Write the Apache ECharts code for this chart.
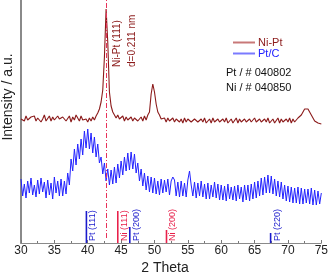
<!DOCTYPE html>
<html><head><meta charset="utf-8">
<script src="https://cdn.jsdelivr.net/npm/echarts@6/dist/echarts.min.js"></script>
<style>html,body{margin:0;padding:0;background:#fff}#c{width:331px;height:275px}</style>
</head><body><div id="c"></div>
<script>
// sampling grid: 2θ from 30 to 75 in 0.25° steps
const thetaStart = 30, thetaStep = 0.25;
const niPt = [
124,126,122,127,123,121,126,124,
127,122,125,126,121,124,128,122,
124,127,122,126,123,121,127,124,
122,126,128,122,124,127,121,126,
123,128,130,122,127,123,121,124,
121,125,122,126,123,127,130,134,
141,153,186,234,201,151,137,131,
129,125,128,124,125,127,122,126,
123,121,126,122,125,127,122,124,
126,122,127,123,128,131,149,159,
151,139,131,128,124,122,125,121,
125,122,120,125,121,124,126,121,
124,120,125,121,124,126,121,120,
124,125,121,120,124,121,125,120,
121,124,120,125,121,120,124,121,
120,124,121,125,120,121,124,120,
121,125,120,124,121,120,124,121,
120,124,121,120,125,121,120,124,
121,120,124,121,125,120,121,124,
120,121,125,120,124,121,120,124,
121,125,120,124,121,123,125,126,
128,131,134,136,134,131,128,125,
122,123,120,122,119
];
const ptC = [
64,47,59,45,62,50,65,48,
58,46,63,49,65,51,61,45,
63,48,60,44,66,50,62,47,
64,47,62,49,70,58,84,72,
94,78,99,84,104,88,112,95,
114,94,110,90,106,86,99,80,
86,69,80,62,74,58,73,59,
76,60,79,65,82,68,86,72,
90,73,91,74,89,70,80,62,
74,57,70,53,67,51,66,50,
65,49,62,48,64,50,63,51,
64,48,62,66,63,47,61,46,
62,47,60,46,63,72,58,47,
61,45,60,47,62,46,59,44,
60,44,58,46,61,45,59,43,
58,43,57,42,59,44,56,43,
57,42,58,44,56,41,58,43,
58,42,59,44,61,45,62,47,
65,48,66,50,68,50,67,49,
64,47,62,46,61,44,58,42,
57,41,56,40,55,40,56,39,
55,39,54,40,54,39,55,38,
53,38,52,39,50
];
// reference (JCPDS) sticks
const stickPos = [39.8, 44.5, 46.3, 51.8, 67.4];
const stickHeight = [32, 32, 16, 13, 10];
const stickLabel = ['Pt (111)', 'Ni (111)', 'Pt (200)', 'Ni (200)', 'Pt (220)'];
const stickElem = ['Pt', 'Ni', 'Pt', 'Ni', 'Pt'];
const xTicks = [30, 35, 40, 45, 50, 55, 60, 65, 70, 75];
const peakLine = 42.75;

const FONT = 'Liberation Sans, Arial, sans-serif';
const RED = '#8b1a1a', BLUE = '#2222ff';
const toPairs = arr => arr.map((v, i) => [thetaStart + i * thetaStep, v]);

const chart = echarts.init(document.getElementById('c'), null, {renderer: 'canvas'});
chart.setOption({
  animation: false,
  grid: {left: 21, right: 8, top: 0, bottom: 32},
  xAxis: {
    type: 'value', min: 30, max: 75, interval: 5,
    axisLine: {show: true, lineStyle: {color: '#8a8a8a', width: 1}},
    axisTick: {show: true, inside: true, length: 3, lineStyle: {color: '#777'}},
    minorTick: {show: true, splitNumber: 2, length: 2, lineStyle: {color: '#777'}},
    splitLine: {show: false},
    axisLabel: {color: '#222', fontSize: 12, fontFamily: FONT, margin: 2,
      formatter: v => xTicks.includes(v) ? String(v) : ''}
  },
  yAxis: {
    type: 'value', min: 0, max: 243,
    axisLine: {show: true, lineStyle: {color: '#8a8a8a', width: 2}},
    axisTick: {show: false}, axisLabel: {show: false}, splitLine: {show: false}
  },
  legend: {
    orient: 'vertical', left: 228, top: 32, itemGap: 0,
    itemWidth: 22, itemHeight: 2, icon: 'rect',
    textStyle: {fontSize: 11, fontFamily: FONT, lineHeight: 11, padding: [0, 0, 0, -2]},
    data: [
      {name: 'Ni-Pt', textStyle: {color: RED}, itemStyle: {color: '#c87878'}},
      {name: 'Pt/C', textStyle: {color: BLUE}, itemStyle: {color: '#7a7aff'}}
    ]
  },
  series: [
    {name: 'Pt/C', type: 'line', data: toPairs(ptC), showSymbol: false, symbol: 'none',
     lineStyle: {color: BLUE, width: 1}, itemStyle: {color: BLUE}, z: 2},
    {name: 'Ni-Pt', type: 'line', data: toPairs(niPt), showSymbol: false, symbol: 'none',
     lineStyle: {color: RED, width: 1.1}, itemStyle: {color: RED}, z: 3,
     markLine: {silent: true, symbol: 'none', label: {show: false},
       lineStyle: {color: '#e8325a', width: 1, type: [5, 2, 1, 2]},
       data: [[{coord: [peakLine, 5]}, {coord: [peakLine, 243]}]]}},
    {name: 'sticks', type: 'custom', z: 4,
     data: stickPos.map((p, i) => [p, stickHeight[i]]),
     encode: {x: 0, y: 1},
     renderItem: function (params, api) {
       const x = api.value(0), h = api.value(1);
       const p0 = api.coord([x, 0]), p1 = api.coord([x, h]);
       const c = stickElem[params.dataIndex] === 'Pt' ? '#1a1acc' : '#e8204a';
       return {type: 'group', children: [
         {type: 'line', shape: {x1: p0[0], y1: p0[1], x2: p1[0], y2: p1[1]},
          style: {stroke: c, lineWidth: 1.6}},
         {type: 'text', x: p0[0] + 2, y: p0[1] - 2, rotation: Math.PI / 2,
          style: {text: stickLabel[params.dataIndex], fill: c, font: '9px ' + FONT,
                  align: 'left', verticalAlign: 'top'}}
       ]};
     }}
  ],
  graphic: [
    {type: 'text', x: 112, y: 67, rotation: Math.PI / 2,
     style: {text: 'Ni-Pt (111)', fill: RED, font: '10px ' + FONT, align: 'left', verticalAlign: 'top'}},
    {type: 'text', x: 127, y: 67, rotation: Math.PI / 2,
     style: {text: 'd=0.211 nm', fill: RED, font: '10px ' + FONT, align: 'left', verticalAlign: 'top'}},
    {type: 'text', x: 226, y: 73,
     style: {text: 'Pt / # 040802', fill: '#111', font: '11px ' + FONT, align: 'left', verticalAlign: 'middle'}},
    {type: 'text', x: 226, y: 88,
     style: {text: 'Ni / # 040850', fill: '#111', font: '11px ' + FONT, align: 'left', verticalAlign: 'middle'}},
    {type: 'text', x: 8, y: 97, rotation: Math.PI / 2,
     style: {text: 'Intensity / a.u.', fill: '#222', font: '14px ' + FONT, align: 'center', verticalAlign: 'middle'}},
    {type: 'text', x: 165, y: 268,
     style: {text: '2 Theta', fill: '#222', font: '14px ' + FONT, align: 'center', verticalAlign: 'middle'}}
  ]
});
</script></body></html>
